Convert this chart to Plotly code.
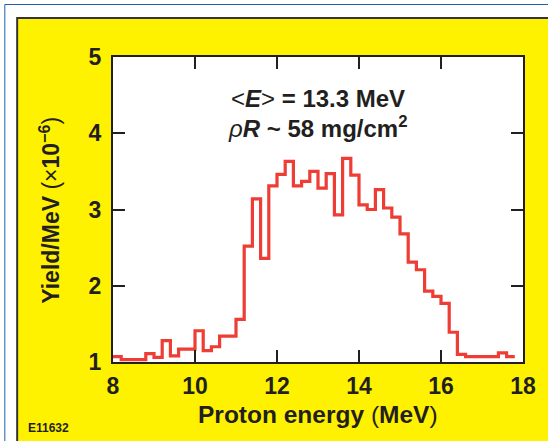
import plotly.graph_objects as go

# ---- data ----
bin_width = 0.2
bin_start = 8.0
yield_values = [
    1.07, 1.03, 1.03, 1.03, 1.11, 1.06, 1.28, 1.08, 1.17, 1.17,
    1.41, 1.15, 1.20, 1.34, 1.34, 1.56, 2.52, 3.14, 2.36, 3.31,
    3.46, 3.63, 3.31, 3.37, 3.50, 3.28, 3.47, 2.93, 3.67, 3.45,
    3.06, 3.00, 3.26, 3.02, 2.90, 2.68, 2.31, 2.21, 1.93, 1.86,
    1.77, 1.39, 1.10, 1.07, 1.07, 1.07, 1.07, 1.12, 1.07,
]
x_ticks = [8, 10, 12, 14, 16, 18]
y_ticks = [1, 2, 3, 4, 5]

edges = [round(bin_start + i * bin_width, 4) for i in range(len(yield_values) + 1)]
xs = edges
ys = yield_values + [yield_values[-1]]

# ---- geometry ----
W, H = 548, 441
L, R, T, B = 113, 528, 57, 362
def px(x):
    return (x - L) / (R - L)
def py(y):
    return (B - y) / (B - T)

FONT = "Liberation Sans, Arial, sans-serif"
INK = "#231f20"

fig = go.Figure()
fig.add_trace(go.Scatter(
    x=xs, y=ys, mode="lines", line=dict(shape="hv", color="#ee3d34", width=3.2),
    hoverinfo="skip", showlegend=False,
))

shapes = [
    dict(type="rect", xref="paper", yref="paper", x0=px(3.5), x1=px(600), y0=py(500), y1=py(4.5),
         line=dict(color="#1f5fae", width=1), fillcolor="white", layer="below"),
    dict(type="rect", xref="paper", yref="paper", x0=px(16), x1=px(600), y0=py(500), y1=py(18),
         line=dict(color="#333333", width=2), fillcolor="#fff200", layer="below"),
    dict(type="rect", xref="paper", yref="paper", x0=0, x1=1, y0=0, y1=1,
         line=dict(width=0), fillcolor="white", layer="below"),
]

axis_common = dict(
    showline=True, linewidth=2, linecolor=INK, mirror="ticks",
    ticks="inside", ticklen=12, tickwidth=2, tickcolor=INK,
    showgrid=False, zeroline=False,
    tickfont=dict(family=FONT, size=23, color=INK, weight="bold"),
)

fig.update_xaxes(range=[8, 18], tickvals=x_ticks, ticktext=[str(v) for v in x_ticks],
                 ticklabelstandoff=2, **axis_common)
fig.update_yaxes(range=[1, 5], tickvals=y_ticks, ticktext=[str(v) for v in y_ticks],
                 ticklabelstandoff=5, **axis_common)

annotations = [
    dict(x=px(321), y=py(414), text="<b>Proton energy </b>(<b>MeV</b>)",
         font=dict(family=FONT, size=24.5, color=INK)),
    dict(x=px(49), y=py(210), text="<b>Yield/MeV </b>(×<b>10<sup>−6</sup></b>)", textangle=-90,
         font=dict(family=FONT, size=23, color=INK)),
    dict(x=px(320), y=py(99), text="&lt;<b><i>E</i></b>&gt; <b>= 13.3 MeV</b>",
         font=dict(family=FONT, size=24, color=INK)),
    dict(x=px(320), y=py(127), text="<i>ρ</i><b><i>R</i> ~ 58 mg/cm<sup>2</sup></b>",
         font=dict(family=FONT, size=24, color=INK)),
    dict(x=px(47.5), y=py(428), text="<b>E11632</b>",
         font=dict(family=FONT, size=12, color=INK)),
]
for a in annotations:
    a.update(xref="paper", yref="paper", xanchor="center", yanchor="middle", showarrow=False)

fig.update_layout(
    width=W, height=H,
    margin=dict(l=L, r=W - R, t=T, b=H - B, pad=0),
    paper_bgcolor="white", plot_bgcolor="white",
    shapes=shapes, annotations=annotations, showlegend=False,
)

fig.write_html(
    "out.html",
    config={"displayModeBar": False},
    post_script="document.body.style.margin='0px';document.body.style.padding='0px';",
)
